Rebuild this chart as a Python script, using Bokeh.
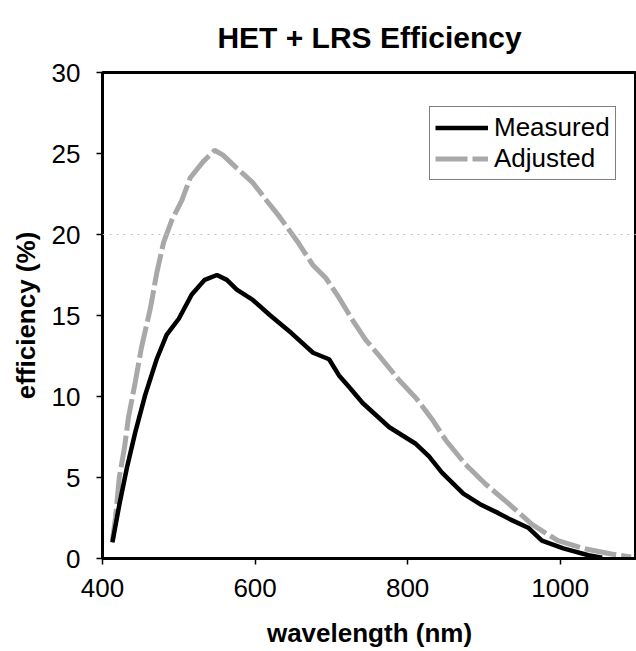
from bokeh.plotting import figure
from bokeh.models import Range1d, FixedTicker, Span, Legend, LegendItem
from bokeh.embed import file_html
from bokeh.resources import INLINE

# Measured efficiency (%) vs wavelength (nm)
measured_wl = [413, 422, 432, 443, 456, 471, 484, 500, 517, 534, 550, 563, 576, 597,
               620, 648, 676, 697, 710, 723, 741, 776, 810, 828, 845, 873, 897, 919,
               935, 958, 976, 1004, 1037, 1055]
measured_eff = [1.0, 3.3, 5.6, 7.8, 10.1, 12.3, 13.8, 14.8, 16.3, 17.2, 17.5, 17.2, 16.6, 15.96,
                15.0, 13.9, 12.7, 12.3, 11.3, 10.6, 9.6, 8.1, 7.1, 6.3, 5.3, 4.0, 3.3, 2.8,
                2.4, 1.9, 1.1, 0.63, 0.2, 0.05]

# Adjusted efficiency (%) vs wavelength (nm)
adjusted_wl = [413, 417, 422, 429, 434, 443, 451, 463, 471, 480, 491, 504, 515, 532, 547,
               558, 576, 597, 615, 632, 655, 676, 693, 710, 728, 745, 763, 789, 811, 832,
               850, 876, 902, 932, 963, 997, 1032, 1067, 1093]
adjusted_eff = [1.1, 2.5, 5.0, 6.9, 8.7, 10.9, 13.0, 15.5, 17.6, 19.5, 20.9, 22.1, 23.5, 24.5, 25.2,
                24.9, 24.1, 23.2, 22.1, 21.1, 19.6, 18.1, 17.3, 16.1, 14.7, 13.5, 12.5, 11.0, 9.9, 8.6,
                7.3, 5.8, 4.6, 3.4, 2.1, 1.1, 0.6, 0.28, 0.1]

x_ticks = [400, 600, 800, 1000]
y_ticks = [0, 5, 10, 15, 20, 25, 30]

FONT = "Liberation Sans"

p = figure(width=636, height=651, output_backend="svg", toolbar_location=None,
           x_range=Range1d(400, 1100), y_range=Range1d(0, 30),
           min_border_left=102, min_border_right=0, min_border_top=72, min_border_bottom=93)

p.title.text = "HET + LRS Efficiency"
p.title.text_font = FONT
p.title.text_font_size = "30px"
p.title.text_font_style = "bold"
p.title.text_color = "black"
p.title.align = "center"
p.title.vertical_align = "top"
p.title.offset = 8
p.title.standoff = 34

p.outline_line_color = "black"
p.outline_line_width = 3
p.background_fill_color = "white"
p.border_fill_color = "white"

p.xgrid.visible = False
p.ygrid.visible = False
p.add_layout(Span(location=20, dimension="width", line_color="#c0c0c0",
                  line_width=1, line_dash="2 5"))

for ax in (p.xaxis[0], p.yaxis[0]):
    ax.axis_line_color = "black"
    ax.axis_line_width = 3
    ax.major_tick_out = 6
    ax.major_tick_in = 0
    ax.major_tick_line_width = 1.5
    ax.minor_tick_line_color = None
    ax.major_label_text_font = FONT
    ax.major_label_text_font_size = "26px"
    ax.major_label_text_color = "black"
    ax.axis_label_text_font = FONT
    ax.axis_label_text_font_size = "26px"
    ax.axis_label_text_font_style = "bold"
    ax.axis_label_text_color = "black"

p.xaxis.ticker = FixedTicker(ticks=x_ticks)
p.yaxis.ticker = FixedTicker(ticks=y_ticks)
p.xaxis.axis_label = "wavelength (nm)"
p.yaxis.axis_label = "efficiency (%)"
p.xaxis.major_label_standoff = 14
p.xaxis.axis_label_standoff = 18
p.yaxis.major_label_standoff = 16
p.yaxis.axis_label_standoff = 8

r_adj = p.line(adjusted_wl, adjusted_eff, line_color="#a8a8a8", line_width=5,
               line_dash="32 5")
r_meas = p.line(measured_wl, measured_eff, line_color="black", line_width=4.5)

legend = Legend(items=[LegendItem(label="Measured", renderers=[r_meas]),
                       LegendItem(label="Adjusted", renderers=[r_adj])],
                location=(327, 378))
legend.label_text_font = FONT
legend.label_text_font_size = "26px"
legend.label_text_color = "black"
legend.border_line_color = "black"
legend.border_line_width = 1
legend.background_fill_alpha = 1
legend.padding = 5
legend.spacing = 0
legend.margin = 0
legend.glyph_width = 53
legend.glyph_height = 31
legend.label_height = 31
legend.label_standoff = 6
p.add_layout(legend)

open("out.html", "w").write(file_html(p, INLINE))
